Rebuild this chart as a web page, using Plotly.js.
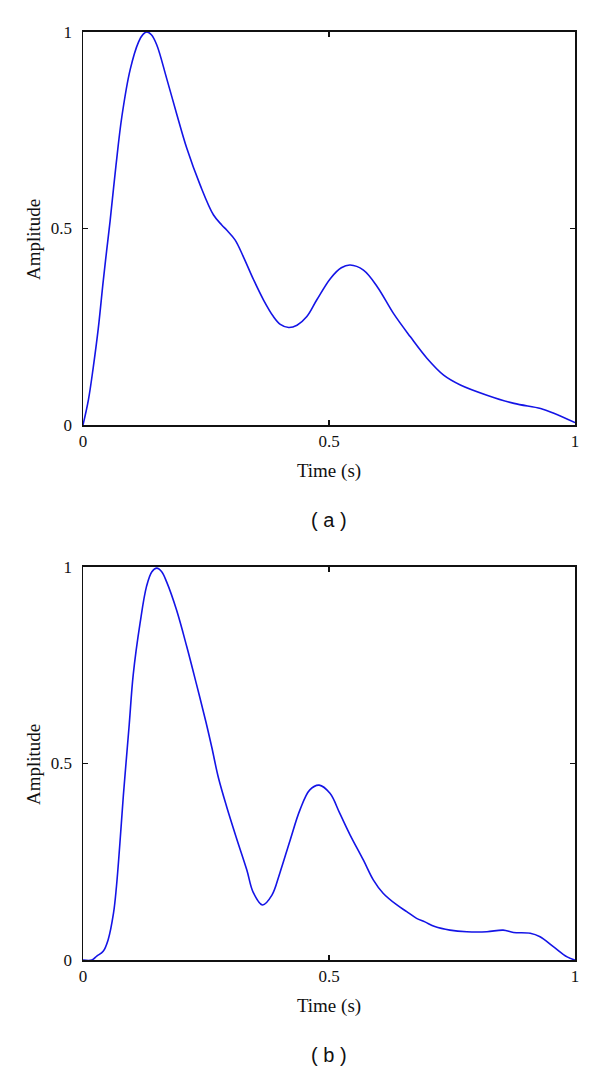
<!DOCTYPE html>
<html>
<head>
<meta charset="utf-8">
<script src="https://cdn.plot.ly/plotly-3.0.1.min.js"></script>
<style>html,body{margin:0;padding:0;background:#fff;}#chart{width:600px;height:1070px;}</style>
</head>
<body>
<div id="chart"></div>
<script>
// Panel (a)
const timeA = [0, 0.011, 0.021, 0.031, 0.041, 0.048, 0.055, 0.067, 0.079, 0.096, 0.113, 0.122, 0.130, 0.139, 0.150, 0.170, 0.191, 0.211, 0.238, 0.265, 0.282, 0.292, 0.309, 0.326, 0.347, 0.367, 0.387, 0.401, 0.418, 0.435, 0.455, 0.475, 0.503, 0.525, 0.543, 0.570, 0.598, 0.631, 0.665, 0.699, 0.733, 0.767, 0.821, 0.876, 0.930, 0.957, 1.0];
const ampA  = [0, 0.064, 0.148, 0.245, 0.365, 0.443, 0.518, 0.660, 0.785, 0.905, 0.975, 0.994, 1.0, 0.993, 0.967, 0.882, 0.789, 0.704, 0.611, 0.535, 0.509, 0.496, 0.471, 0.428, 0.369, 0.318, 0.276, 0.256, 0.248, 0.254, 0.276, 0.318, 0.373, 0.400, 0.407, 0.394, 0.352, 0.284, 0.225, 0.170, 0.127, 0.102, 0.076, 0.055, 0.042, 0.030, 0.006];
// Panel (b)
const timeB = [0, 0.018, 0.028, 0.041, 0.051, 0.062, 0.068, 0.075, 0.082, 0.088, 0.094, 0.102, 0.116, 0.129, 0.140, 0.150, 0.160, 0.170, 0.190, 0.211, 0.231, 0.250, 0.262, 0.275, 0.292, 0.312, 0.333, 0.346, 0.365, 0.384, 0.400, 0.421, 0.441, 0.461, 0.480, 0.502, 0.522, 0.543, 0.570, 0.590, 0.610, 0.638, 0.658, 0.678, 0.695, 0.715, 0.746, 0.780, 0.821, 0.854, 0.875, 0.909, 0.929, 0.956, 0.984, 1.0];
const ampB  = [0, 0.0, 0.010, 0.022, 0.051, 0.119, 0.187, 0.297, 0.418, 0.510, 0.600, 0.725, 0.857, 0.950, 0.988, 0.997, 0.988, 0.962, 0.891, 0.797, 0.700, 0.605, 0.540, 0.465, 0.390, 0.310, 0.229, 0.172, 0.140, 0.165, 0.221, 0.305, 0.382, 0.433, 0.445, 0.424, 0.373, 0.318, 0.254, 0.204, 0.170, 0.140, 0.123, 0.106, 0.097, 0.085, 0.076, 0.072, 0.072, 0.076, 0.070, 0.068, 0.059, 0.034, 0.008, 0.0];

const tickVals = [0, 0.5, 1];
const tickText = ['0', '0.5', '1'];
const xTitle = 'Time (s)';
const yTitle = 'Amplitude';
const captions = ['( a )', '( b )'];

const lineStyle = {color: '#1414e6', width: 1.6, shape: 'spline', smoothing: 1};
const traces = [
  {x: timeA, y: ampA, type: 'scatter', mode: 'lines', line: lineStyle, xaxis: 'x', yaxis: 'y', hoverinfo: 'skip'},
  {x: timeB, y: ampB, type: 'scatter', mode: 'lines', line: lineStyle, xaxis: 'x2', yaxis: 'y2', hoverinfo: 'skip'}
];

const serifFamily = 'Liberation Serif, Times New Roman, serif';
const tickFont = {family: serifFamily, size: 17, color: '#111'};
const titleFont = {family: serifFamily, size: 19, color: '#111'};
function axisBase(extra) {
  return Object.assign({
    range: [0, 1], tickvals: tickVals, ticktext: tickText,
    showline: true, linecolor: '#111', linewidth: 1.5, mirror: 'ticks',
    ticks: 'inside', ticklen: 5, tickwidth: 1.5, tickcolor: '#111',
    showgrid: false, zeroline: false, tickfont: tickFont, fixedrange: true
  }, extra);
}

const capFont = {family: 'Liberation Sans, Arial, sans-serif', size: 20, color: '#111'};
const layout = {
  width: 600, height: 1070,
  margin: {l: 83, r: 25, t: 0, b: 0},
  paper_bgcolor: '#fff', plot_bgcolor: '#fff',
  showlegend: false,
  xaxis: axisBase({anchor: 'y', domain: [0, 1], title: {text: xTitle, font: titleFont, standoff: 14}}),
  yaxis: axisBase({anchor: 'x', domain: [0.6028, 0.9701], ticklabelstandoff: 6}),
  xaxis2: axisBase({anchor: 'y2', domain: [0, 1], title: {text: xTitle, font: titleFont, standoff: 14}}),
  yaxis2: axisBase({anchor: 'x2', domain: [0.1028, 0.4701], ticklabelstandoff: 6}),
  annotations: [
    {text: yTitle, xref: 'paper', yref: 'paper', x: -0.1016, y: (1070 - 240) / 1070, textangle: -90, xanchor: 'center', yanchor: 'middle', showarrow: false, font: titleFont},
    {text: yTitle, xref: 'paper', yref: 'paper', x: -0.1016, y: (1070 - 765) / 1070, textangle: -90, xanchor: 'center', yanchor: 'middle', showarrow: false, font: titleFont},
    {text: captions[0], xref: 'paper', yref: 'paper', x: 0.5, y: (1070 - 520) / 1070, xanchor: 'center', yanchor: 'middle', showarrow: false, font: capFont},
    {text: captions[1], xref: 'paper', yref: 'paper', x: 0.5, y: (1070 - 1055) / 1070, xanchor: 'center', yanchor: 'middle', showarrow: false, font: capFont}
  ]
};

Plotly.newPlot('chart', traces, layout, {displayModeBar: false, staticPlot: true});
</script>
</body>
</html>
